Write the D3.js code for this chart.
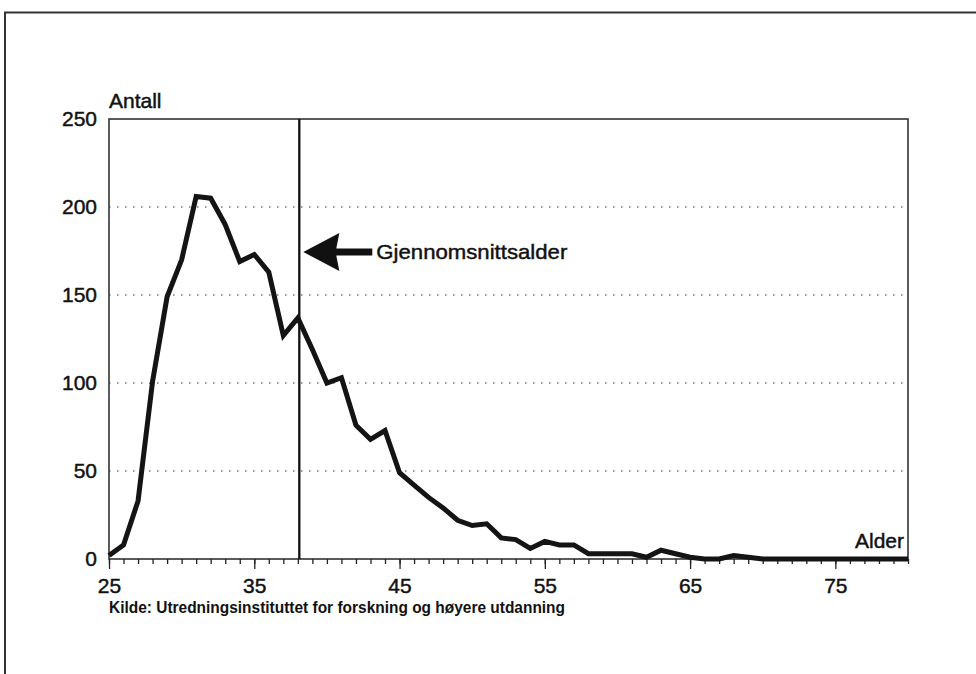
<!DOCTYPE html>
<html lang="no">
    <head>
        <meta charset="utf-8">
        <title>Alder</title>
        <script src="https://d3js.org/d3.v7.min.js"></script>
        <style>
            body { margin: 0; background: #fff; }
            svg { display: block; }
            text { font-family: "Liberation Sans", Arial, sans-serif; fill: #111; stroke: #111; stroke-width: 0.45px; }
        </style>
    </head>
    <body>
        <script type="text/javascript">
            // ages on the x axis, counts
            var ages = [25, 26, 27, 28, 29, 30, 31, 32, 33, 34, 35, 36, 37, 38, 39, 40,
                41, 42, 43, 44, 45, 46, 47, 48, 49, 50, 51, 52, 53, 54, 55, 56, 57, 58,
                59, 60, 61, 62, 63, 64, 65, 66, 67, 68, 69, 70, 71, 72, 73, 74, 75, 76,
                77, 78, 79, 80];
            var antall = [2, 8, 33, 101, 149, 170, 206, 205, 190, 169, 173, 163, 127, 137, 119, 100,
                103, 76, 68, 73, 49, 42, 35, 29, 22, 19, 20, 12, 11, 6, 10, 8, 8, 3,
                3, 3, 3, 1, 5, 3, 1, 0, 0, 2, 1, 0, 0, 0, 0, 0, 0, 0,
                0, 0, 0, 0];
            var xTickLabels = [25, 35, 45, 55, 65, 75];
            var yTickLabels = [0, 50, 100, 150, 200, 250];
            var gridValues = [50, 100, 150, 200];
            var snittAlder = 38.1;

            var width = 976, height = 674;
            var plotLeft = 109, plotRight = 908, plotTop = 119, plotBottom = 559;

            var svg = d3.select("body")
                .append("svg")
                .attr("width", width)
                .attr("height", height);

            // frame round the figure (open at right and bottom, as in the scan)
            svg.append("path")
                .attr("d", "M" + width + ",12.5H5V" + height)
                .attr("fill", "none")
                .attr("stroke", "#333")
                .attr("stroke-width", 2);

            var x = d3.scaleLinear().domain([25, 80]).range([plotLeft, plotRight]);
            var y = d3.scaleLinear().domain([0, 250]).range([plotBottom, plotTop]);

            // dotted grid
            svg.selectAll("line.grid")
                .data(gridValues)
                .enter()
                .append("line")
                .attr("class", "grid")
                .attr("x1", plotLeft)
                .attr("x2", plotRight)
                .attr("y1", function (d) { return y(d); })
                .attr("y2", function (d) { return y(d); })
                .attr("stroke", "#777")
                .attr("stroke-width", 1.3)
                .attr("stroke-dasharray", "1.5,6.5");

            // plot box
            svg.append("rect")
                .attr("x", plotLeft)
                .attr("y", plotTop)
                .attr("width", plotRight - plotLeft)
                .attr("height", plotBottom - plotTop)
                .attr("fill", "none")
                .attr("stroke", "#333")
                .attr("stroke-width", 1.6);

            // minor ticks every year
            var minorAxis = svg.append("g")
                .attr("transform", "translate(0," + plotBottom + ")")
                .call(d3.axisBottom(x).tickValues(ages).tickSize(5).tickFormat(""));

            // major ticks with labels
            var majorAxis = svg.append("g")
                .attr("transform", "translate(0," + plotBottom + ")")
                .call(d3.axisBottom(x).tickValues(xTickLabels).tickSize(10).tickPadding(9)
                    .tickFormat(d3.format("d")));

            [minorAxis, majorAxis].forEach(function (g) {
                g.select(".domain").remove();
                g.selectAll(".tick line").attr("stroke", "#222").attr("stroke-width", 1.3);
            });
            majorAxis.selectAll("text")
                .attr("font-size", 21)
                .attr("font-family", "Liberation Sans, Arial, sans-serif")
                .attr("fill", "#111");

            var yAxis = svg.append("g")
                .attr("transform", "translate(" + plotLeft + ",0)")
                .call(d3.axisLeft(y).tickValues(yTickLabels).tickSize(0).tickPadding(12)
                    .tickFormat(d3.format("d")));
            yAxis.select(".domain").remove();
            yAxis.selectAll("text")
                .attr("font-size", 21)
                .attr("font-family", "Liberation Sans, Arial, sans-serif")
                .attr("fill", "#111");

            // mean age line
            svg.append("line")
                .attr("x1", x(snittAlder))
                .attr("x2", x(snittAlder))
                .attr("y1", plotTop)
                .attr("y2", plotBottom)
                .attr("stroke", "#111")
                .attr("stroke-width", 2.3);

            // the curve
            var points = ages.map(function (a, i) { return [a, antall[i]]; });
            svg.append("path")
                .datum(points)
                .attr("fill", "none")
                .attr("stroke", "#141414")
                .attr("stroke-width", 5)
                .attr("stroke-linejoin", "miter")
                .attr("d", d3.line()
                    .x(function (d) { return x(d[0]); })
                    .y(function (d) { return y(d[1]); }));

            // arrow pointing at the mean line
            var ax = x(snittAlder) + 4, ay = 252;
            svg.append("path")
                .attr("d", "M" + ax + "," + ay + "L" + (ax + 36) + "," + (ay - 19) +
                    "L" + (ax + 33) + "," + (ay - 3.5) + "L" + (ax + 69) + "," + (ay - 3.5) +
                    "L" + (ax + 69) + "," + (ay + 3.5) + "L" + (ax + 33) + "," + (ay + 3.5) +
                    "L" + (ax + 36) + "," + (ay + 19) + "Z")
                .attr("fill", "#111");

            svg.append("text")
                .attr("x", ax + 73)
                .attr("y", ay + 7)
                .attr("font-size", 21)
                .attr("textLength", 191)
                .attr("lengthAdjust", "spacingAndGlyphs")
                .text("Gjennomsnittsalder");

            svg.append("text")
                .attr("x", plotLeft)
                .attr("y", 108)
                .attr("font-size", 21)
                .text("Antall");

            svg.append("text")
                .attr("x", plotRight - 4)
                .attr("y", 548)
                .attr("text-anchor", "end")
                .attr("font-size", 21)
                .text("Alder");

            svg.append("text")
                .attr("x", plotLeft)
                .attr("y", 613)
                .attr("font-size", 17)
                .attr("font-weight", "bold")
                .style("stroke-width", "0px")
                .attr("textLength", 456)
                .attr("lengthAdjust", "spacingAndGlyphs")
                .text("Kilde: Utredningsinstituttet for forskning og høyere utdanning");
        </script>
    </body>
</html>
